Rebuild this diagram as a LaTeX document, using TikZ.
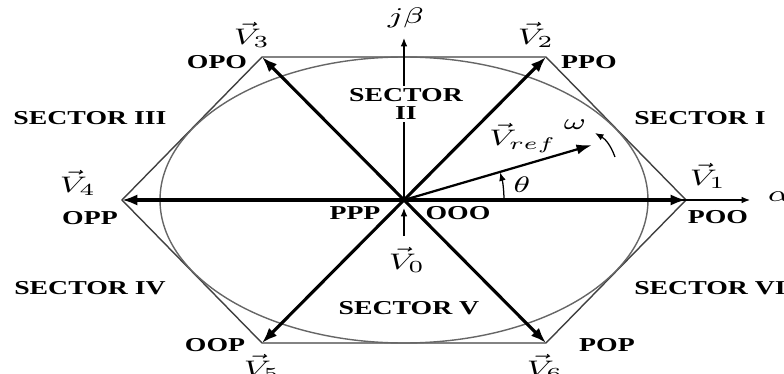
\documentclass[tikz,border=0pt]{standalone}
\usepackage{fontspec}
\setmainfont{Liberation Serif}
\usetikzlibrary{arrows.meta}
\newcommand{\hs}[1]{\scalebox{1.41}[1]{#1}}

\begin{document}
\begin{tikzpicture}[x=0.0125cm, y=0.0125cm, font=\fontsize{7}{8}\selectfont,
  vec/.style={line width=1.1pt, -{Latex[length=5.5pt,width=4pt]}},
  refvec/.style={line width=0.8pt, -{Latex[length=5.5pt,width=3.6pt]}},
  axis/.style={line width=0.45pt, -{Latex[length=3pt,width=2.4pt]}},
  hexline/.style={line width=0.5pt, black!75},
  lbl/.style={font=\fontsize{7}{8}\selectfont\bfseries, inner sep=1pt},
  vlab/.style={font=\fontsize{8.5}{9}\selectfont, inner sep=0.5pt},
  sec/.style={font=\fontsize{7}{6.5}\selectfont\bfseries, align=center}]
\useasboundingbox (-404,-173) rectangle (380,200);
\clip (-404,-173) rectangle (380,200);
\def\hexR{282}
\def\hexX{142}
\def\hexY{143}

\coordinate (O) at (0,0);
\foreach \k/\x/\y in {1/\hexR/0, 2/\hexX/\hexY, 3/-\hexX/\hexY, 4/-\hexR/0, 5/-\hexX/-\hexY, 6/\hexX/-\hexY}
  \coordinate (V\k) at (\x,\y);

\draw[hexline] (V1) -- (V2) -- (V3) -- (V4) -- (V5) -- (V6) -- cycle;
\draw[hexline, black!60] (O) ellipse [x radius=244, y radius=143];

\coordinate (Ya) at (0,162);
\coordinate (Xa) at (346,0);
\draw[axis] (O) -- (Ya);
\draw[axis] (O) -- (Xa);
\node[vlab] (jb) at (2,182) {\hs{$j\beta$}};
\node[vlab] (al) at (375,3) {\hs{$\alpha$}};

\foreach \n/\x/\y/\t in {s1/296/82/{SECTOR I}, s3/-314/82/{SECTOR III}, s4/-314/-88/{SECTOR IV}, s5/5/-108/{SECTOR V}, s6/306/-88/{SECTOR VI}}
  \node[sec] (\n) at (\x,\y) {\hs{\t}};
\node[sec, fill=white, inner sep=1pt] (s2) at (2,96) {\hs{SECTOR}\\\hs{II}};

\foreach \k in {1,...,6}
  \draw[vec] (O) -- (V\k);

\foreach \k/\x/\y/\t in {1/314/-17/POO, 2/185/138/PPO, 3/-187/138/OPO, 4/-314/-18/OPP, 5/-189/-145/OOP, 6/203/-145/POP}
  \node[lbl] (c\k) at (\x,\y) {\hs{\t}};
\foreach \k/\x/\y in {1/304/24, 2/132/165, 3/-152/165, 4/-326/17, 5/-142/-167, 6/141/-167}
  \node[vlab] (v\k) at (\x,\y) {\hs{$\vec{V}_\k$}};

\node[lbl] (ppp) at (-49,-13) {\hs{PPP}};
\node[lbl] (ooo) at (54,-13) {\hs{OOO}};
\node[vlab] (v0) at (3,-60) {\hs{$\vec{V}_0$}};
\coordinate (z0) at (0,-36);
\coordinate (z1) at (0,-8);
\draw[axis] (z0) -- (z1);

\coordinate (Vr) at (188,55);
\draw[refvec] (O) -- (Vr);
\node[vlab] (vr) at (119,62) {\hs{$\vec{V}_{ref}$}};
\coordinate (t0) at (100,0);
\draw[axis] (t0) arc[start angle=0, end angle=16, radius=100];
\node[vlab] (th) at (118,15) {\hs{$\theta$}};
\node[vlab] (om) at (171,75) {\hs{$\omega$}};
\coordinate (w0) at (211,43);
\coordinate (w1) at (191,67);
\draw[axis] (w0) to[bend right=20] (w1);
\end{tikzpicture}
\end{document}
